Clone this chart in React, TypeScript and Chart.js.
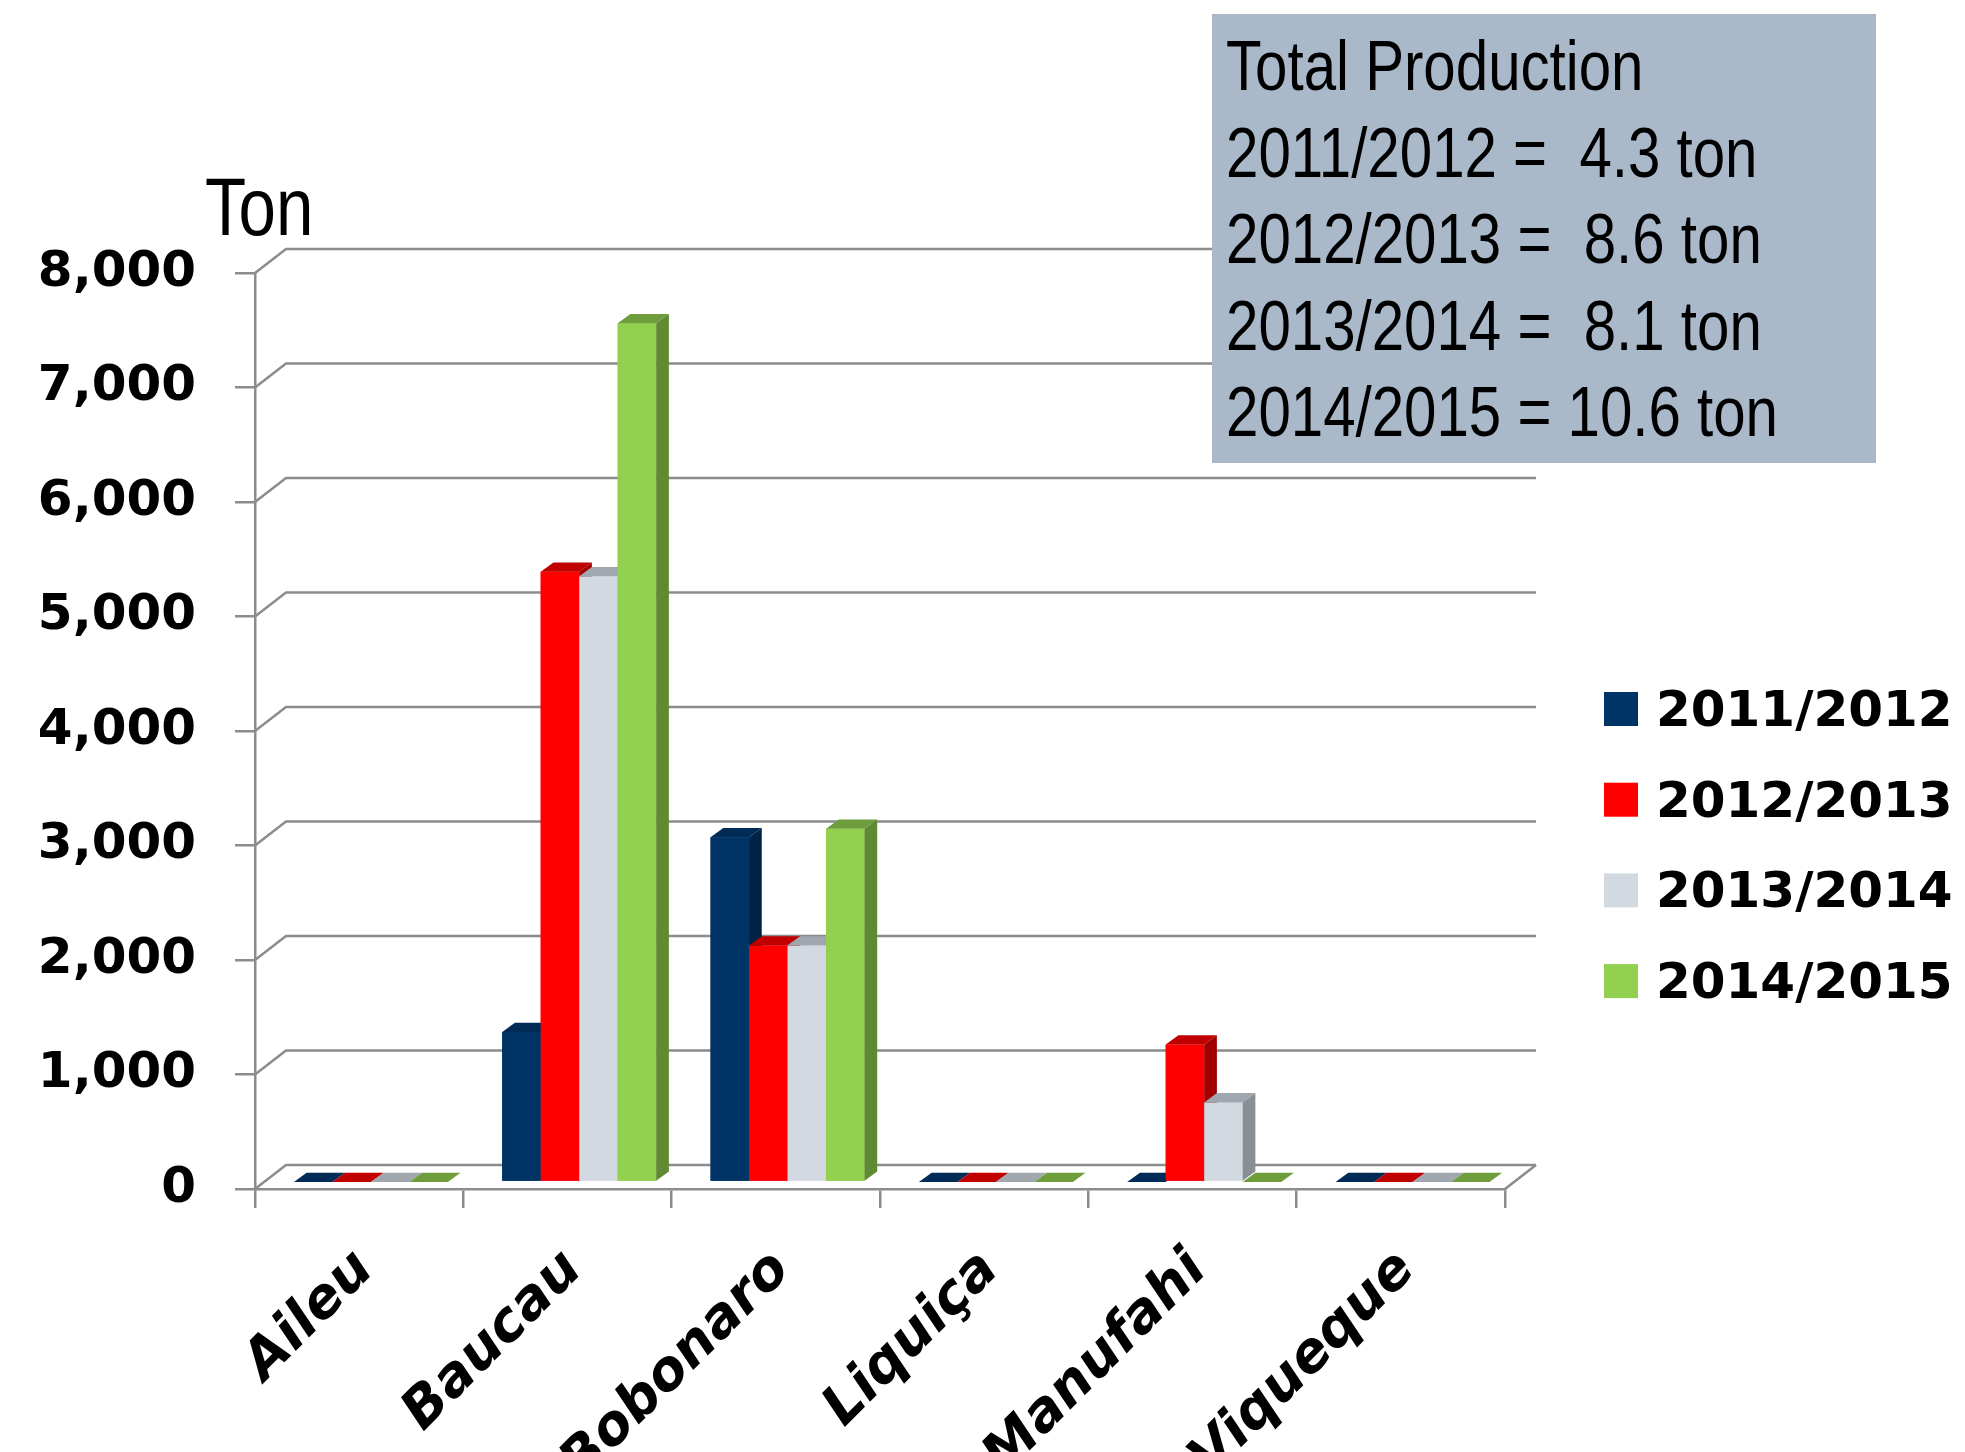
import React, { useEffect, useRef } from 'react';
import { Chart, registerables } from 'chart.js';

Chart.register(...registerables);

// ---------- data ----------
const categories = ['Aileu', 'Baucau', 'Bobonaro', 'Liquiça', 'Manufahi', 'Viqueque'];
const seriesNames = ['2011/2012', '2012/2013', '2013/2014', '2014/2015'];
const values2011 = [0, 1310, 3010, 0, 0, 0];
const values2012 = [0, 5330, 2065, 0, 1200, 0];
const values2013 = [0, 5290, 2065, 0, 695, 0];
const values2014 = [0, 7500, 3085, 0, 0, 0];
const yMin = 0;
const yMax = 8000;
const yStep = 1000;
const yTitle = 'Ton';
const noteLines = [
  'Total Production',
  '2011/2012 =  4.3 ton',
  '2012/2013 =  8.6 ton',
  '2013/2014 =  8.1 ton',
  '2014/2015 = 10.6 ton',
];

// ---------- styles ----------
const frontColors = ['#003366', '#FF0000', '#D3D9E0', '#92D050'];
const topColors = ['#012B57', '#C00000', '#A1A7AE', '#6E9E3C'];
const sideColors = ['#002244', '#A20000', '#8A8F95', '#5F8A32'];
const GRID = '#8C8C8C';
const W = 1965;
const H = 1452;
const BACK = { dx: 31, dy: -24 };
const BAR_SHIFT = { dx: 11.7, dy: -7 };
const BAR_DEPTH = { dx: 12.7, dy: -9.3 };
const SANS = '"Liberation Sans", Arial, sans-serif';
const NARROW_SCALE = 0.82;
const WIDE = '"DejaVu Sans", sans-serif';

const seriesData = [values2011, values2012, values2013, values2014];

function narrowText(ctx: CanvasRenderingContext2D, text: string, x: number, y: number) {
  ctx.save();
  ctx.translate(x, y);
  ctx.scale(NARROW_SCALE, 1);
  ctx.fillText(text, 0, 0);
  ctx.restore();
}

const threeD = {
  id: 'threeD',
  beforeDatasetsDraw(chart: any) {
    const { ctx, chartArea: a } = chart;
    const y = chart.scales.y;
    ctx.save();
    ctx.strokeStyle = GRID;
    ctx.lineWidth = 2.5;
    y.ticks.forEach((t: any) => {
      const py = y.getPixelForValue(t.value);
      ctx.beginPath();
      ctx.moveTo(a.left, py);
      ctx.lineTo(a.left + BACK.dx, py + BACK.dy);
      ctx.lineTo(a.right + BACK.dx, py + BACK.dy);
      ctx.stroke();
    });
    const p0 = y.getPixelForValue(yMin);
    ctx.beginPath();
    ctx.moveTo(a.right, p0);
    ctx.lineTo(a.right + BACK.dx, p0 + BACK.dy);
    ctx.stroke();
    ctx.restore();
    ctx.save();
    ctx.translate(BAR_SHIFT.dx, BAR_SHIFT.dy);
  },
  afterDatasetsDraw(chart: any) {
    const ctx = chart.ctx;
    const n = chart.data.labels.length;
    const m = chart.data.datasets.length;
    for (let j = 0; j < n; j++) {
      for (let i = 0; i < m; i++) {
        const el = chart.getDatasetMeta(i).data[j];
        if (!el) continue;
        const { x, y, base, width } = el.getProps(['x', 'y', 'base', 'width'], true);
        const x0 = x - width / 2;
        const x1 = x + width / 2;
        ctx.fillStyle = frontColors[i];
        ctx.fillRect(x0, y, width, base - y);
        ctx.fillStyle = topColors[i];
        ctx.beginPath();
        ctx.moveTo(x0, y);
        ctx.lineTo(x1, y);
        ctx.lineTo(x1 + BAR_DEPTH.dx, y + BAR_DEPTH.dy);
        ctx.lineTo(x0 + BAR_DEPTH.dx, y + BAR_DEPTH.dy);
        ctx.closePath();
        ctx.fill();
        if (base - y > 0.5) {
          ctx.fillStyle = sideColors[i];
          ctx.beginPath();
          ctx.moveTo(x1, y);
          ctx.lineTo(x1 + BAR_DEPTH.dx, y + BAR_DEPTH.dy);
          ctx.lineTo(x1 + BAR_DEPTH.dx, base + BAR_DEPTH.dy);
          ctx.lineTo(x1, base);
          ctx.closePath();
          ctx.fill();
        }
      }
    }
    ctx.restore();
  },
  afterDraw(chart: any) {
    const ctx = chart.ctx;
    ctx.save();
    ctx.fillStyle = '#000';
    ctx.textAlign = 'left';
    ctx.textBaseline = 'alphabetic';
    ctx.font = `82px ${SANS}`;
    narrowText(ctx, yTitle, 205, 235);

    ctx.fillStyle = '#AAB9CA';
    ctx.fillRect(1212, 14, 664, 449);
    ctx.fillStyle = '#000';
    ctx.font = `71px ${SANS}`;
    noteLines.forEach((line, k) => {
      narrowText(ctx, line, 1226, 90 + k * 86.5);
    });

    ctx.font = `bold 50px ${WIDE}`;
    chart.data.datasets.forEach((ds: any, k: number) => {
      const top = 692 + k * 90.7;
      ctx.fillStyle = ds.backgroundColor;
      ctx.fillRect(1604, top, 34, 34);
      ctx.fillStyle = '#000';
      ctx.fillText(ds.label, 1656, top + 34);
    });
    ctx.restore();
  },
};

export default function App() {
  const ref = useRef<HTMLCanvasElement>(null);
  useEffect(() => {
    document.body.style.margin = '0';
    document.body.style.overflow = 'hidden';
    const chart = new Chart(ref.current as HTMLCanvasElement, {
      type: 'bar',
      data: {
        labels: categories,
        datasets: seriesNames.map((name, i) => ({
          label: name,
          data: seriesData[i],
          backgroundColor: frontColors[i],
          categoryPercentage: 0.739,
          barPercentage: 1,
        })),
      },
      options: {
        responsive: false,
        animation: false,
        layout: { padding: { left: 0, top: 273, right: 460, bottom: 0 } },
        plugins: { legend: { display: false }, tooltip: { enabled: false } },
        scales: {
          x: {
            grid: {
              display: true,
              drawOnChartArea: false,
              drawTicks: true,
              tickLength: 19,
              color: GRID,
              lineWidth: 2.5,
              offset: true,
            },
            border: { display: true, color: GRID, width: 2.5 },
            ticks: {
              autoSkip: false,
              minRotation: 45,
              maxRotation: 45,
              padding: 30,
              labelOffset: 6,
              color: '#000',
              font: { family: WIDE, size: 55, weight: 'bold', style: 'italic' },
            },
            afterFit: (s: any) => {
              s.height = 263;
            },
          },
          y: {
            min: yMin,
            max: yMax,
            ticks: {
              stepSize: yStep,
              padding: 39,
              color: '#000',
              font: { family: WIDE, size: 50, weight: 'bold' },
              callback: (v: any) => Number(v).toLocaleString('en-US'),
            },
            grid: {
              display: true,
              drawOnChartArea: false,
              drawTicks: true,
              tickLength: 20,
              color: GRID,
              lineWidth: 2.5,
            },
            border: { display: true, color: GRID, width: 2.5 },
            afterFit: (s: any) => {
              s.width = 255;
            },
          },
        },
      } as any,
      plugins: [threeD],
    });
    return () => chart.destroy();
  }, []);
  return (
    <div style={{ position: 'absolute', left: 0, top: 0, width: W, height: H }}>
      <canvas ref={ref} width={W} height={H} style={{ display: 'block', width: W, height: H }} />
    </div>
  );
}
